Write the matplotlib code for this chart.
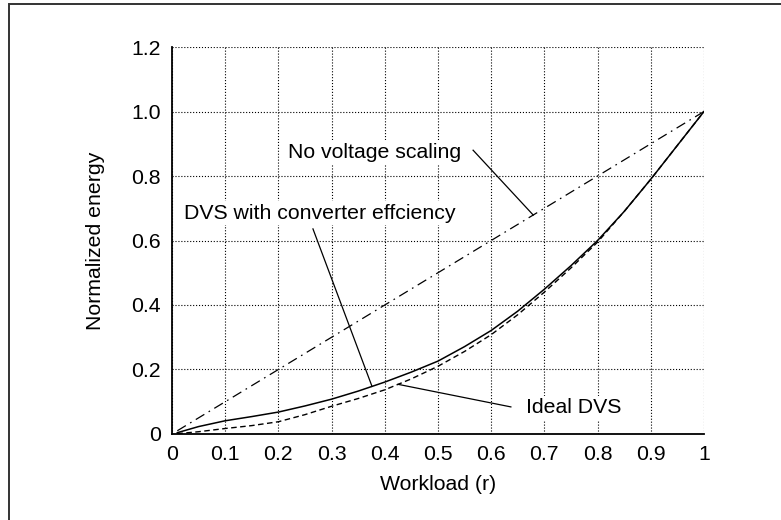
import matplotlib
matplotlib.use("Agg")
import matplotlib.pyplot as plt
from matplotlib.patches import Rectangle
import numpy as np

matplotlib.rcParams['font.family'] = ['Liberation Sans', 'DejaVu Sans']
matplotlib.rcParams['font.size'] = 15.3

# workload samples and normalized energy of the three schemes
workload = [0.01, 0.05, 0.1, 0.15, 0.2, 0.25, 0.3, 0.35, 0.4, 0.45, 0.5,
            0.55, 0.6, 0.65, 0.7, 0.75, 0.8, 0.85, 0.9, 0.95, 1.0]
no_scaling = [0.01, 0.05, 0.1, 0.15, 0.2, 0.25, 0.3, 0.35, 0.4, 0.45, 0.5,
              0.55, 0.6, 0.65, 0.7, 0.75, 0.8, 0.85, 0.9, 0.95, 1.0]
dvs_converter = [0.004, 0.023, 0.041, 0.054, 0.068, 0.087, 0.108, 0.133,
                 0.161, 0.192, 0.226, 0.271, 0.321, 0.381, 0.449, 0.522,
                 0.6, 0.69, 0.79, 0.895, 1.0]
ideal_dvs = [0.001, 0.007, 0.017, 0.026, 0.038, 0.06, 0.086, 0.11, 0.137,
             0.171, 0.21, 0.256, 0.308, 0.37, 0.44, 0.515, 0.595, 0.69,
             0.79, 0.895, 1.0]

xticks = [0, 0.1, 0.2, 0.3, 0.4, 0.5, 0.6, 0.7, 0.8, 0.9, 1]
xtick_labels = ["0", "0.1", "0.2", "0.3", "0.4", "0.5", "0.6", "0.7", "0.8",
                "0.9", "1"]
yticks = [0, 0.2, 0.4, 0.6, 0.8, 1.0, 1.2]
ytick_labels = ["0", "0.2", "0.4", "0.6", "0.8", "1.0", "1.2"]

fig = plt.figure(figsize=(7.81, 5.20), dpi=100)
ax = fig.add_axes([0.2202, 0.1654, 0.6812, 0.7442])

# outer frame, open at the right and bottom
fig.patches.append(Rectangle((0.0115, -0.2), 1.3, 0.9923 + 0.2,
                             transform=fig.transFigure, fill=False,
                             edgecolor="#333333", linewidth=1.4))

ax.plot(workload, no_scaling, color="black", linewidth=0.9,
        linestyle=(0, (8, 4, 1.3, 4)))
ax.plot(workload, dvs_converter, color="black", linewidth=1.1)
ax.plot(workload, ideal_dvs, color="black", linewidth=1.0,
        linestyle=(0, (4, 2.5)))

ax.set_xlim(0, 1)
ax.set_ylim(0, 1.2)
ax.set_xticks(xticks, xtick_labels)
ax.set_yticks(yticks, ytick_labels)
ax.tick_params(length=0, pad=8)
ax.grid(True, color="black", linestyle=":", linewidth=0.8)
ax.spines[['right', 'top']].set_visible(False)
for s in ['left', 'bottom']:
    ax.spines[s].set_linewidth(1.3)

ax.set_xlabel("Workload (r)", labelpad=8)
ax.set_ylabel("Normalized energy", labelpad=19)

box = dict(facecolor="white", edgecolor="none", pad=2)

# leader lines from the labels to points on the curves
pt = 0.679
ax.plot([0.566, pt], [0.88, np.interp(pt, workload, no_scaling)],
        color="black", linewidth=0.9)
ax.text(0.218, 0.874, "No voltage scaling", ha="left", va="center",
        bbox=box)

pt = 0.376
ax.plot([0.265, pt], [0.636, np.interp(pt, workload, dvs_converter)],
        color="black", linewidth=0.9)
ax.text(0.022, 0.685, "DVS with converter effciency", ha="left",
        va="center", bbox=box)

pt = 0.425
ax.plot([0.637, pt], [0.084, np.interp(pt, workload, ideal_dvs)],
        color="black", linewidth=0.9)
ax.text(0.665, 0.081, "Ideal DVS", ha="left", va="center", bbox=box)

fig.savefig("out.png", dpi=100)
